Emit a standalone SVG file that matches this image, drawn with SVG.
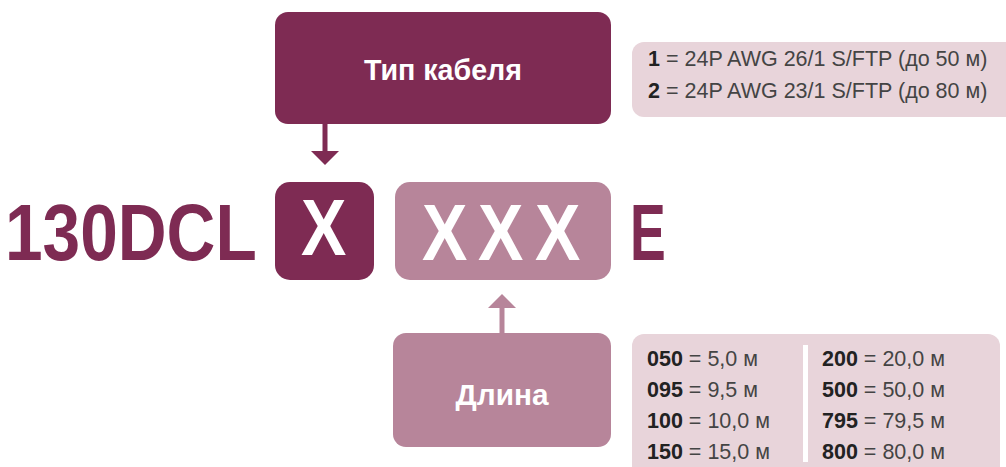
<svg xmlns="http://www.w3.org/2000/svg" width="1006" height="467" viewBox="0 0 1006 467">
<style>
.dark{fill:#7e2b53}
.mid{fill:#b7859a}
.light{fill:#e8d4da}
.big{font-family:"Liberation Sans",Arial,sans-serif;font-weight:bold;font-size:80px}
.wht{fill:#fff}
.lbl{font-family:"Liberation Sans",Arial,sans-serif;font-weight:bold;font-size:30px;fill:#fff;text-anchor:middle}
.leg{font-family:"Liberation Sans",Arial,sans-serif;font-size:21.5px;fill:#444}
.leg tspan.b{font-weight:bold;fill:#222}
</style>
<defs>
<marker id="hd" viewBox="0 0 14 28" refX="0" refY="14" markerWidth="14" markerHeight="28" markerUnits="userSpaceOnUse" orient="auto"><path d="M0,0 L14,14 L0,28 z" fill="#7e2b53"/></marker>
<marker id="hm" viewBox="0 0 14 28" refX="0" refY="14" markerWidth="14" markerHeight="28" markerUnits="userSpaceOnUse" orient="auto"><path d="M0,0 L14,14 L0,28 z" fill="#b7859a"/></marker>
</defs>
<g id="connectors">
<line x1="325" y1="124" x2="325" y2="151" stroke="#7e2b53" stroke-width="5" marker-end="url(#hd)"/>
<line x1="502" y1="333" x2="502" y2="308" stroke="#b7859a" stroke-width="5" marker-end="url(#hm)"/>
</g>
<g id="cable-type">
<rect class="dark" x="275" y="12" width="336" height="112" rx="13"/>
<text class="lbl" x="443" y="80" textLength="158" lengthAdjust="spacingAndGlyphs">Тип кабеля</text>
</g>
<g id="code">
<text class="big dark" transform="translate(5,260) scale(0.845,1)">130DCL</text>
</g>
<g id="x-box">
<rect class="dark" x="275" y="182" width="99" height="98" rx="15"/>
<text class="big wht" transform="translate(301,255) scale(0.85,1)">X</text>
</g>
<g id="xxx-box">
<rect class="mid" x="395" y="182" width="216" height="98" rx="15"/>
<text class="big wht" transform="translate(422,260) scale(0.85,1)">X</text>
<text class="big wht" transform="translate(478,260) scale(0.85,1)">X</text>
<text class="big wht" transform="translate(535,260) scale(0.85,1)">X</text>
</g>
<g id="suffix">
<text class="big dark" transform="translate(630,260) scale(0.67,1)">E</text>
</g>
<g id="length">
<rect class="mid" x="393" y="333" width="218" height="114" rx="13"/>
<text class="lbl" x="502" y="405" textLength="93" lengthAdjust="spacingAndGlyphs">Длина</text>
</g>
<g id="cable-legend">
<rect class="light" x="632" y="42" width="390" height="75" rx="12"/>
<text class="leg" x="648" y="66"><tspan class="b">1</tspan> = 24P AWG 26/1 S/FTP (до 50 м)</text>
<text class="leg" x="648" y="98"><tspan class="b">2</tspan> = 24P AWG 23/1 S/FTP (до 80 м)</text>
</g>
<g id="length-legend">
<rect class="light" x="632" y="334" width="368" height="150" rx="12"/>
<rect x="803" y="345" width="5" height="117" fill="#fff"/>
<text class="leg" x="647" y="366"><tspan class="b">050</tspan> = 5,0 м</text>
<text class="leg" x="647" y="397"><tspan class="b">095</tspan> = 9,5 м</text>
<text class="leg" x="647" y="428"><tspan class="b">100</tspan> = 10,0 м</text>
<text class="leg" x="647" y="459"><tspan class="b">150</tspan> = 15,0 м</text>
<text class="leg" x="822" y="366"><tspan class="b">200</tspan> = 20,0 м</text>
<text class="leg" x="822" y="397"><tspan class="b">500</tspan> = 50,0 м</text>
<text class="leg" x="822" y="428"><tspan class="b">795</tspan> = 79,5 м</text>
<text class="leg" x="822" y="459"><tspan class="b">800</tspan> = 80,0 м</text>
</g>
</svg>
